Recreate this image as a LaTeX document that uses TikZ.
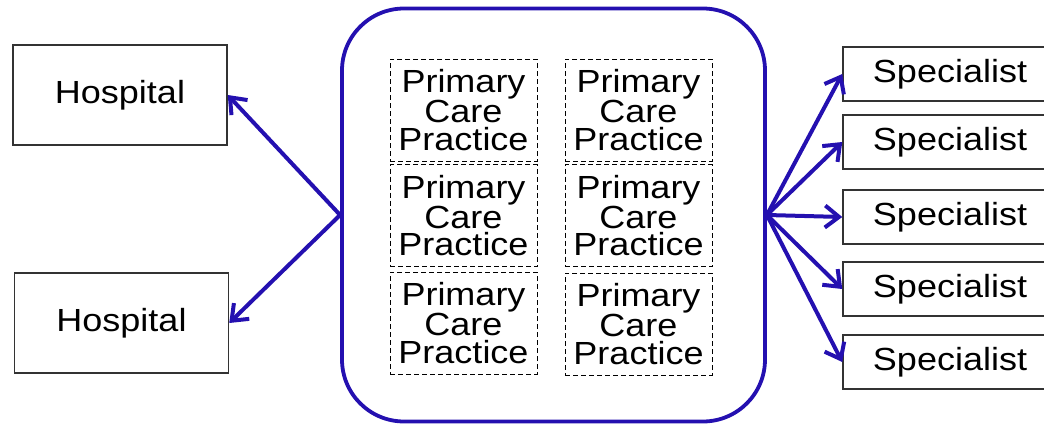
\documentclass[tikz,border=0pt]{standalone}
\usepackage{fontspec}
\setmainfont{Liberation Sans}[FakeStretch=1.125]
\usetikzlibrary{arrows.meta}
\definecolor{linkblue}{RGB}{36,16,176}
\begin{document}
\begin{tikzpicture}[x=1pt,y=-1pt,
  txt/.style={font=\fontsize{32}{27.3}\selectfont,align=center,inner sep=0pt},
  hbox/.style={txt,draw=black!80,line width=1.5pt,minimum width=214pt,minimum height=100pt},
  sbox/.style={txt,draw=black!80,line width=1.5pt,minimum width=214pt,minimum height=54pt},
  pbox/.style={txt,draw=black,line width=1pt,dash pattern=on 5pt off 3pt,minimum width=147pt,minimum height=102pt},
  link/.style={draw=linkblue,line width=4pt,-{Straight Barb[length=14pt,width=22pt]}}]
\useasboundingbox (0,0) rectangle (1044,423);
\node[draw=linkblue,line width=3.8pt,rounded corners=62pt,minimum width=423pt,minimum height=413pt] (C00) at (553.5,215) {};
\node[pbox] (P01) at (463.5,110) {Primary\\Care\\Practice};
\node[pbox] (P02) at (638.5,110) {Primary\\Care\\Practice};
\node[pbox] (P03) at (463.5,215.5) {Primary\\Care\\Practice};
\node[pbox] (P04) at (638.5,215.5) {Primary\\Care\\Practice};
\node[pbox] (P05) at (463.5,323) {Primary\\Care\\Practice};
\node[pbox] (P06) at (638.5,324) {Primary\\Care\\Practice};
\node[hbox] (H01) at (120,95) {Hospital};
\node[hbox] (H02) at (121.5,323) {Hospital};
\node[sbox] (S01) at (950,74) {Specialist};
\node[sbox] (S02) at (950,142) {Specialist};
\node[sbox] (S03) at (950,217) {Specialist};
\node[sbox] (S04) at (950,289) {Specialist};
\node[sbox] (S05) at (950,362) {Specialist};
\draw[link] (C00.west) -- (H01.east);
\draw[link] (C00.west) -- (H02.east);
\draw[link] (C00.east) -- (S01.west);
\draw[link] (C00.east) -- (S02.west);
\draw[link] (C00.east) -- (S03.west);
\draw[link] (C00.east) -- (S04.west);
\draw[link] (C00.east) -- (S05.west);
\end{tikzpicture}
\end{document}
